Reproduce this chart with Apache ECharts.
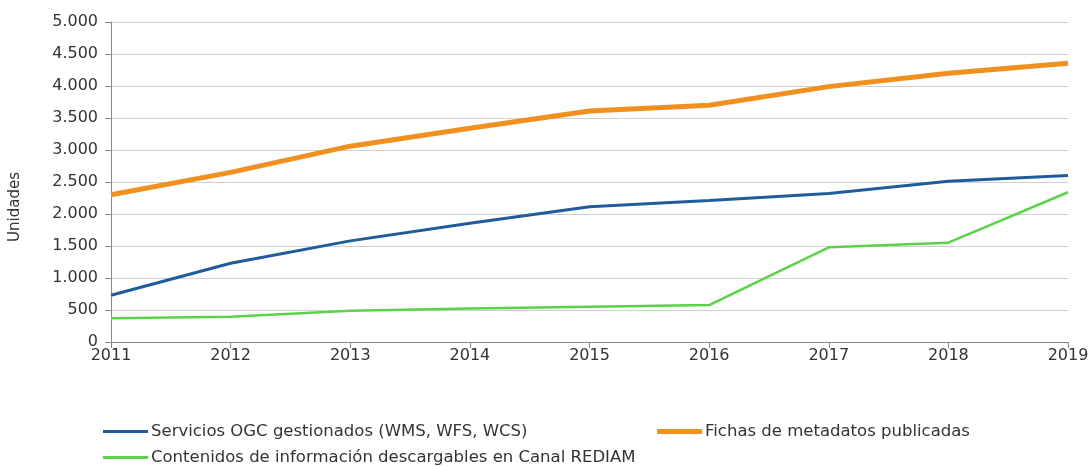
<!DOCTYPE html>
<html>
<head>
    <meta charset="utf-8">
    <title>Unidades</title>
    <script src="https://cdn.jsdelivr.net/npm/echarts@6/dist/echarts.min.js"></script>
    <style>
        html, body { margin: 0; padding: 0; background: #fff; }
        #chart1 { width: 1090px; height: 467px; }
    </style>
</head>
<body>
<div id="chart1"></div>
<script type="text/javascript">
    // datos
    var years = ['2011', '2012', '2013', '2014', '2015', '2016', '2017', '2018', '2019'];
    var serviciosOGC = [730, 1230, 1580, 1855, 2115, 2210, 2320, 2510, 2600];
    var fichasMetadatos = [2300, 2650, 3060, 3340, 3610, 3700, 3990, 4200, 4355];
    var contenidosRediam = [370, 395, 490, 525, 550, 578, 1480, 1552, 2340];

    var nombres = [
        'Servicios OGC gestionados (WMS, WFS, WCS)',
        'Fichas de metadatos publicadas',
        'Contenidos de información descargables en Canal REDIAM'
    ];

    function miles(v) {
        return String(v).replace(/\B(?=(\d{3})+(?!\d))/g, '.');
    }

    var myChart1 = echarts.init(document.getElementById('chart1'));
    var fuente = 'DejaVu Sans, Verdana, sans-serif';

    myChart1.setOption({
        animation: false,
        textStyle: { fontFamily: fuente },
        grid: { left: 111, right: 22, top: 22, bottom: 125, outerBoundsMode: 'none', containLabel: false },
        legend: [{
            data: [nombres[0], nombres[2]],
            orient: 'vertical',
            left: 98, top: 418, height: 80,
            itemWidth: 45, itemHeight: 3, itemGap: 9,
            icon: 'rect',
            textStyle: { fontSize: 16.5, color: '#333', fontFamily: fuente, padding: [0, 0, 0, -2] }
        }, {
            data: [nombres[1]],
            orient: 'vertical',
            left: 652, top: 418, height: 80,
            itemWidth: 45, itemHeight: 5,
            icon: 'rect',
            textStyle: { fontSize: 16.5, color: '#333', fontFamily: fuente, padding: [0, 0, 0, -2] }
        }],
        graphic: [{
            type: 'text',
            left: 8, top: 172,
            rotation: Math.PI / 2,
            style: { text: 'Unidades', fill: '#333', fontSize: 15, fontFamily: fuente }
        }],
        xAxis: {
            type: 'category',
            data: years,
            boundaryGap: false,
            axisLine: { lineStyle: { color: '#888' } },
            axisTick: { show: true, length: 6, lineStyle: { color: '#888' } },
            axisLabel: { color: '#333', fontSize: 16, margin: 6 }
        },
        yAxis: {
            type: 'value',
            min: 0, max: 5000, interval: 500,
            axisLine: { show: true, lineStyle: { color: '#888' } },
            axisTick: { show: true, length: 6, lineStyle: { color: '#888' } },
            axisLabel: { color: '#333', fontSize: 16, margin: 13, formatter: miles },
            splitLine: { lineStyle: { color: '#d0d0d0' } }
        },
        series: [{
            name: nombres[0],
            type: 'line',
            data: serviciosOGC,
            symbol: 'none',
            color: '#1f5c99',
            lineStyle: { width: 3 }
        }, {
            name: nombres[1],
            type: 'line',
            data: fichasMetadatos,
            symbol: 'none',
            color: '#f0901f',
            lineStyle: { width: 5 }
        }, {
            name: nombres[2],
            type: 'line',
            data: contenidosRediam,
            symbol: 'none',
            color: '#5cd24a',
            lineStyle: { width: 2.5 }
        }]
    });
</script>
</body>
</html>
